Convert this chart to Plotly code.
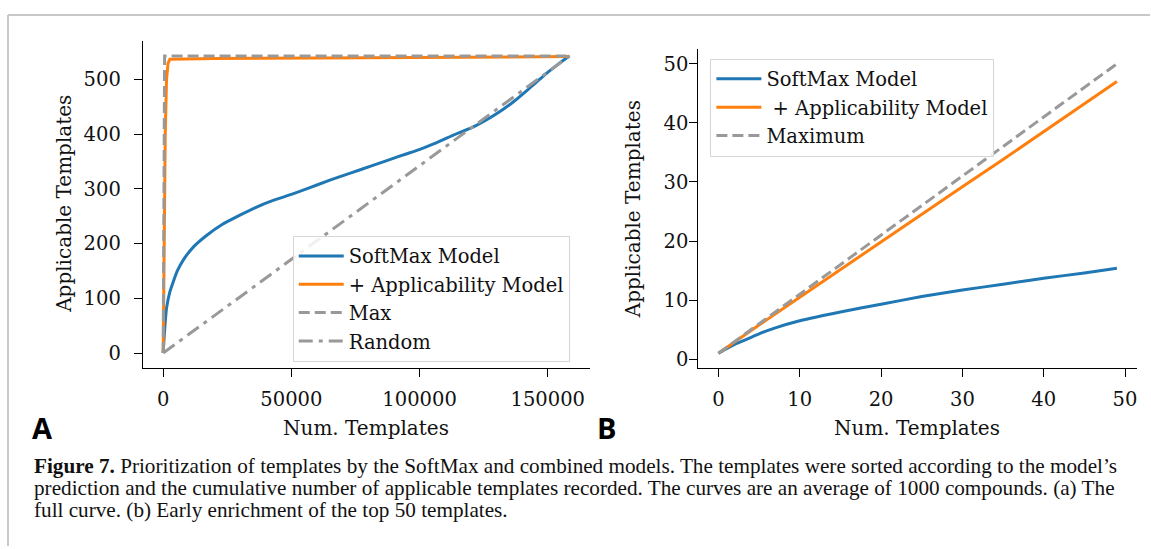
import plotly.graph_objects as go

W, H = 1151, 549

# ---------------- data: panel A (full curve) ----------------
softmax_x_A = [0, 600, 1300, 2600, 3900, 5500, 7800, 12000, 16900, 23000, 29900, 36000,
               42900, 50000, 55900, 65000, 73000, 81800, 92200, 98700, 105200, 113000,
               120800, 126000, 131200, 136500, 141600, 145500, 149400, 153500, 157200, 158500]
softmax_y_A = [0, 45, 82, 112, 130, 150, 170, 195, 215, 235, 252, 266,
               279, 290, 300, 316, 329, 343, 360, 370, 382, 398,
               413, 426, 441, 459, 479, 495, 511, 526, 539, 543]
appl_x_A = [0, 400, 800, 1300, 1900, 2600, 20000, 60000, 100000, 140000, 158500]
appl_y_A = [0, 200, 400, 500, 530, 537, 538.5, 539.5, 540.5, 541.5, 542]
max_x_A = [0, 543, 158500]
max_y_A = [0, 543, 543]
rand_x_A = [0, 158500]
rand_y_A = [0, 543]

# ---------------- data: panel B (top 50) ----------------
softmax_x_B = [0, 1, 2, 3, 5, 7, 10, 15, 20, 25, 30, 35, 40, 45, 49]
softmax_y_B = [1.0, 1.8, 2.5, 3.1, 4.3, 5.3, 6.5, 8.0, 9.3, 10.6, 11.7, 12.7, 13.7, 14.6, 15.4]
appl_x_B = [0, 1, 2, 3, 5, 10, 15, 20, 25, 30, 35, 40, 45, 49]
appl_y_B = [1, 1.98, 2.95, 3.9, 5.8, 10.5, 15.2, 19.8, 24.5, 29.2, 33.8, 38.5, 43.1, 47.0]
max_x_B = [0, 49]
max_y_B = [1, 50]

xticks_A = [0, 50000, 100000, 150000]
xticklabels_A = ["0", "50000", "100000", "150000"]
yticks_A = [0, 100, 200, 300, 400, 500]
xticks_B = [0, 10, 20, 30, 40, 50]
yticks_B = [0, 10, 20, 30, 40, 50]

BLUE = "#1f77b4"
ORANGE = "#ff7f0e"
GRAY = "#999999"
SERIF = "DejaVu Serif"
TXT = "#111111"
FS = 19.5


def px(x):
    return x / W


def py(y):
    return 1 - y / H


fig = go.Figure()

# Panel A
fig.add_trace(go.Scatter(x=softmax_x_A, y=softmax_y_A, mode="lines", name="SoftMax Model",
                         line=dict(color=BLUE, width=3, shape="spline", smoothing=0.6),
                         xaxis="x", yaxis="y", legend="legend"))
fig.add_trace(go.Scatter(x=appl_x_A, y=appl_y_A, mode="lines", name="+ Applicability Model",
                         line=dict(color=ORANGE, width=3),
                         xaxis="x", yaxis="y", legend="legend"))
fig.add_trace(go.Scatter(x=max_x_A, y=max_y_A, mode="lines", name="Max",
                         line=dict(color=GRAY, width=3, dash="11px,5px"),
                         xaxis="x", yaxis="y", legend="legend"))
fig.add_trace(go.Scatter(x=rand_x_A, y=rand_y_A, mode="lines", name="Random",
                         line=dict(color=GRAY, width=3, dash="14px,6px,4px,6px"),
                         xaxis="x", yaxis="y", legend="legend"))

# Panel B
fig.add_trace(go.Scatter(x=softmax_x_B, y=softmax_y_B, mode="lines", name="SoftMax Model",
                         line=dict(color=BLUE, width=3, shape="spline", smoothing=0.6),
                         xaxis="x2", yaxis="y2", legend="legend2"))
fig.add_trace(go.Scatter(x=appl_x_B, y=appl_y_B, mode="lines", name=" + Applicability Model",
                         line=dict(color=ORANGE, width=3),
                         xaxis="x2", yaxis="y2", legend="legend2"))
fig.add_trace(go.Scatter(x=max_x_B, y=max_y_B, mode="lines", name="Maximum",
                         line=dict(color=GRAY, width=3, dash="11px,5px"),
                         xaxis="x2", yaxis="y2", legend="legend2"))

axis_common = dict(showgrid=False, zeroline=False, showline=True, linecolor="black",
                   linewidth=1.3, ticks="outside", ticklen=8, tickwidth=1.3,
                   tickcolor="black", tickfont=dict(family=SERIF, size=FS, color=TXT),
                   mirror=False)

legend_common = dict(xanchor="left", yanchor="top", bgcolor="rgba(255,255,255,0.85)",
                     bordercolor="#d6d6d6", borderwidth=1, itemwidth=45,
                     font=dict(family=SERIF, size=FS, color=TXT))

fig.update_layout(
    width=W, height=H,
    margin=dict(l=0, r=0, t=0, b=0),
    paper_bgcolor="white", plot_bgcolor="white",
    xaxis=dict(domain=[px(143), px(590.4)], range=[-7925, 166425], tickvals=xticks_A,
               ticktext=xticklabels_A, anchor="y", ticklabelstandoff=6, **axis_common),
    yaxis=dict(domain=[py(369.9), py(41.4)], range=[-27.15, 570.2], tickvals=yticks_A,
               anchor="x", ticklabelstandoff=9, **axis_common),
    xaxis2=dict(domain=[px(699.1), px(1137.8)], range=[-2.45, 51.45], tickvals=xticks_B,
                anchor="y2", ticklabelstandoff=6, **axis_common),
    yaxis2=dict(domain=[py(369.8), py(49.6)], range=[-1.45, 52.45], tickvals=yticks_B,
                anchor="x2", ticklabelstandoff=-3, **axis_common),
    legend=dict(x=px(293), y=py(237), **legend_common),
    legend2=dict(x=px(711), y=py(59), **legend_common),
    showlegend=True,
)

# frame lines
fig.add_shape(type="line", xref="paper", yref="paper", x0=px(8), x1=1.0, y0=py(15), y1=py(15),
              line=dict(color="#c8c8c8", width=2), layer="below")
fig.add_shape(type="line", xref="paper", yref="paper", x0=px(8), x1=px(8), y0=py(15), y1=0,
              line=dict(color="#c8c8c8", width=2), layer="below")

ann = []
# axis titles
ann.append(dict(text="Applicable Templates", x=px(64), y=py(205), textangle=-90,
                font=dict(family=SERIF, size=20, color=TXT)))
ann.append(dict(text="Num. Templates", x=px(366), y=py(430),
                font=dict(family=SERIF, size=20, color=TXT)))
ann.append(dict(text="Applicable Templates", x=px(633), y=py(210), textangle=-90,
                font=dict(family=SERIF, size=20, color=TXT)))
ann.append(dict(text="Num. Templates", x=px(918), y=py(430),
                font=dict(family=SERIF, size=20, color=TXT)))
# panel letters
ann.append(dict(text="<b>A</b>", x=px(43), y=py(430),
                font=dict(family="Open Sans", size=29, color="black")))
ann.append(dict(text="<b>B</b>", x=px(607), y=py(430),
                font=dict(family="Open Sans", size=29, color="black")))
# caption
caption_lines = [
    "<b>Figure 7.</b> Prioritization of templates by the SoftMax and combined models. The templates were sorted according to the model\u2019s",
    "prediction and the cumulative number of applicable templates recorded. The curves are an average of 1000 compounds. (a) The",
    "full curve. (b) Early enrichment of the top 50 templates.",
]
for i, line in enumerate(caption_lines):
    ann.append(dict(text=line, x=px(32), y=py(469 + 22 * i), xanchor="left",
                    font=dict(family="Liberation Serif", size=21.2, color=TXT)))

for a in ann:
    a.setdefault("xref", "paper")
    a.setdefault("yref", "paper")
    a.setdefault("showarrow", False)
    a.setdefault("xanchor", "center")
    a.setdefault("yanchor", "middle")
fig.update_layout(annotations=ann)

fig.write_html("out.html", config={"displayModeBar": False},
               post_script="document.body.style.margin='0';document.body.style.overflow='hidden';")
